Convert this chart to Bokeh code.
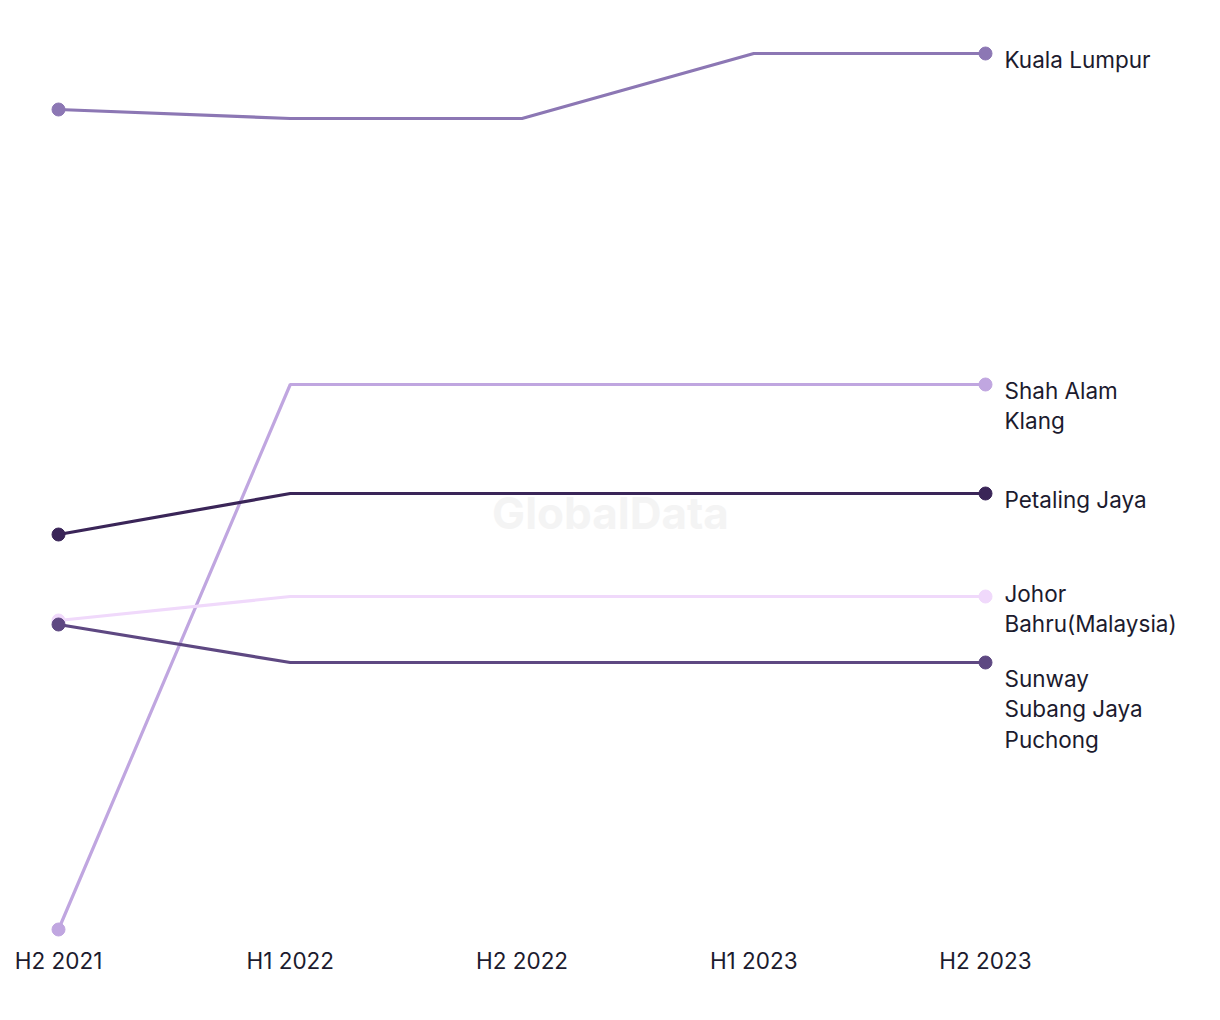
from bokeh.plotting import figure
from bokeh.models import Range1d, Label, ColumnDataSource
from bokeh.core.properties import value
from bokeh.embed import file_html
from bokeh.resources import INLINE

periods = ["H2 2021", "H1 2022", "H2 2022", "H1 2023", "H2 2023"]
series_names = ["Kuala Lumpur", "Shah Alam\nKlang", "Petaling Jaya",
                "Johor\nBahru(Malaysia)", "Sunway\nSubang Jaya\nPuchong"]
kuala_lumpur = [84.1, 83.2, 83.2, 89.7, 89.7]
shah_alam_klang = [2.1, 56.6, 56.6, 56.6, 56.6]
petaling_jaya = [41.6, 45.7, 45.7, 45.7, 45.7]
johor_bahru = [33.0, 35.4, 35.4, 35.4, 35.4]
sunway_subang_puchong = [32.6, 28.8, 28.8, 28.8, 28.8]
all_series = [kuala_lumpur, shah_alam_klang, petaling_jaya, johor_bahru, sunway_subang_puchong]

colors = ["#8c77b4", "#c0a6e0", "#3a2558", "#f0d9fb", "#5e4882"]
label_offsets = [-8, -8, -8, -17, 2]

FONT = "Inter"

p = figure(width=1220, height=1020, output_backend="svg", toolbar_location=None,
           x_range=Range1d(-0.2503, 5.014), y_range=Range1d(1, 95),
           min_border_left=0, min_border_right=0, min_border_top=0, min_border_bottom=80)
p.outline_line_color = None
p.grid.visible = False
p.yaxis.visible = False
p.background_fill_color = "white"
p.border_fill_color = "white"

xs = list(range(len(periods)))

wm = Label(x=610, y=428, x_units="screen", y_units="screen", text="GlobalData",
           text_font=FONT, text_font_style="bold", text_font_size="44px",
           text_color="#f4f4f4", text_align="center", text_baseline="middle")
p.add_layout(wm)

for vals, c in zip(all_series, colors):
    p.line(xs, vals, line_color=c, line_width=3.2)

for vals, c in zip(all_series, colors):
    p.scatter([xs[0], xs[-1]], [vals[0], vals[-1]], size=13, fill_color=c, line_color=c)

src = ColumnDataSource(dict(x=[xs[-1]] * len(all_series), y=[v[-1] for v in all_series],
                            t=series_names, off=label_offsets))
p.text(x="x", y="y", text="t", source=src, x_offset=19, y_offset="off",
       text_font=value(FONT), text_font_size="22.5px", text_color="#1c1b2e",
       text_baseline="top", text_align="left", text_line_height=1.13)

p.xaxis.ticker = xs
p.xaxis.major_label_overrides = {i: s for i, s in enumerate(periods)}
p.xaxis.axis_line_color = None
p.xaxis.major_tick_line_color = None
p.xaxis.minor_tick_line_color = None
p.xaxis.major_tick_out = 0
p.xaxis.major_label_standoff = 6
p.xaxis.major_label_text_font = FONT
p.xaxis.major_label_text_font_size = "22.5px"
p.xaxis.major_label_text_color = "#1c1b2e"

open("out.html", "w").write(file_html(p, INLINE))
